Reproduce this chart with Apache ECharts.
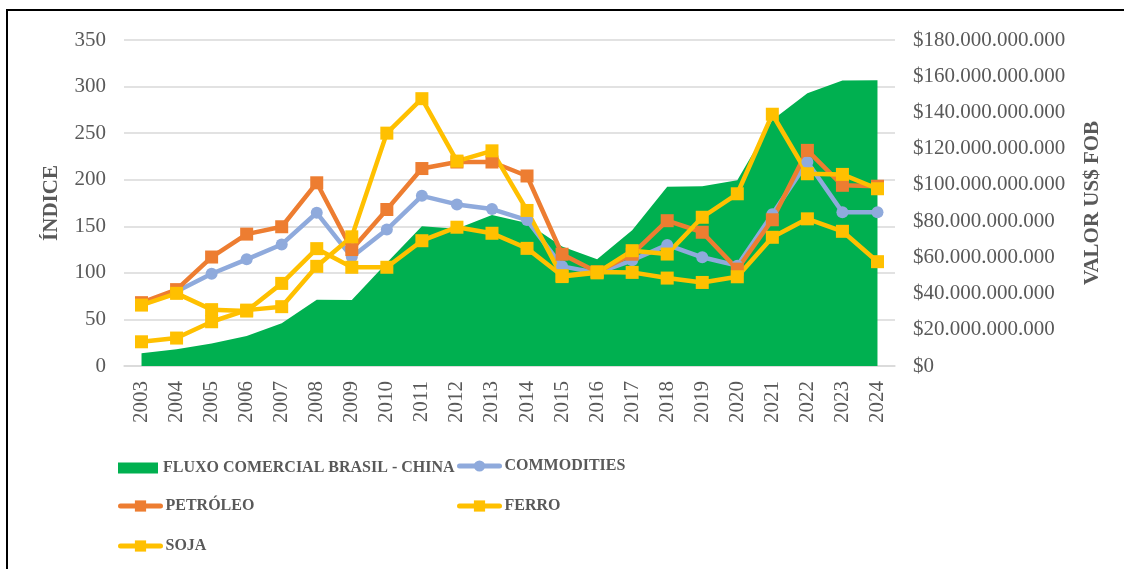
<!DOCTYPE html>
<html>
<head>
<meta charset="utf-8">
<script src="https://cdn.jsdelivr.net/npm/echarts@6/dist/echarts.min.js"></script>
<style>
  html, body { margin: 0; padding: 0; background: #fff; }
  #chart { width: 1124px; height: 569px; }
</style>
</head>
<body>
<div id="chart"></div>
<script>
const years = ['2003', '2004', '2005', '2006', '2007', '2008', '2009', '2010', '2011', '2012', '2013',
  '2014', '2015', '2016', '2017', '2018', '2019', '2020', '2021', '2022', '2023', '2024'];

// fluxo comercial in US$ FOB (right axis)
const fluxo = [7.0e9, 9.3e9, 12.4e9, 16.6e9, 23.6e9, 36.6e9, 36.4e9, 57.0e9, 77.2e9, 75.8e9, 83.4e9,
  79.0e9, 66.0e9, 58.9e9, 75.0e9, 99.0e9, 99.2e9, 102.6e9, 135.8e9, 150.6e9, 157.6e9, 157.8e9];

// indices (left axis)
const commodities = [66, 80, 99, 114.5, 130.5, 164.5, 117, 146.5, 182.7, 173.5, 168.5,
  156.7, 107, 100, 113.5, 130, 116.7, 107.7, 163, 219, 165, 165];
const petroleo = [68, 82, 117, 141.6, 149.5, 196.7, 125, 168, 212, 219, 219,
  204, 120, 101, 120, 156, 143.6, 104, 157, 231.5, 194, 193];
const ferro = [26, 30, 47.5, 60, 63.7, 107, 138.7, 250, 287, 220, 231,
  167, 96, 100, 123.8, 120.2, 159.7, 184.9, 270.3, 206.4, 205.7, 190.3];
const soja = [65.4, 78, 60.5, 59, 88.7, 126, 106, 106, 134.5, 149, 142.5,
  126.3, 97, 101, 100.5, 94.4, 89.7, 95.8, 138.2, 158, 144.6, 112];

const leftTicks = { min: 0, max: 350, interval: 50 };
const rightTicks = { min: 0, max: 180e9, interval: 20e9 };

const FONT = 'Liberation Serif';
const GREY = '#595959';

const chart = echarts.init(document.getElementById('chart'));

function lineSeries(name, data, color, symbol, size) {
  return {
    name: name,
    type: 'line',
    yAxisIndex: 0,
    data: data,
    symbol: symbol,
    symbolSize: size,
    showAllSymbol: true,
    lineStyle: { width: 4.5, color: color, cap: 'round', join: 'round' },
    itemStyle: { color: color, borderWidth: 0 },
    emphasis: { disabled: true }
  };
}

function legendAt(name, left, top, extra) {
  return Object.assign({
    data: [name],
    left: left,
    top: top,
    padding: 0,
    itemWidth: 40,
    itemHeight: 14,
    itemGap: 5,
    selectedMode: false,
    lineStyle: { width: 5 },
    textStyle: { fontFamily: FONT, fontSize: 16, fontWeight: 'bold', color: GREY }
  }, extra || {});
}

chart.setOption({
  animation: false,
  backgroundColor: '#fff',
  graphic: [{
    type: 'rect',
    shape: { x: 7, y: 10, width: 1140, height: 600 },
    style: { fill: null, stroke: '#000', lineWidth: 2 },
    silent: true
  }],
  grid: { left: 124, right: 229, top: 40, bottom: 203 },
  legend: [
    legendAt('FLUXO COMERCIAL BRASIL - CHINA', 118, 460, { itemHeight: 11, data: [{ name: 'FLUXO COMERCIAL BRASIL - CHINA', icon: 'rect' }] }),
    legendAt('COMMODITIES', 457, 458),
    legendAt('PETRÓLEO', 118, 498),
    legendAt('FERRO', 457, 498),
    legendAt('SOJA', 118, 538)
  ],
  xAxis: {
    type: 'category',
    data: years,
    axisLine: { lineStyle: { color: '#D9D9D9', width: 1.5 } },
    axisTick: { show: false },
    axisLabel: { rotate: 90, margin: 15, interval: 0, fontFamily: FONT, fontSize: 21, color: GREY }
  },
  yAxis: [
    {
      type: 'value',
      min: leftTicks.min,
      max: leftTicks.max,
      interval: leftTicks.interval,
      name: 'ÍNDICE',
      nameLocation: 'middle',
      nameRotate: 90,
      nameGap: 62,
      nameTextStyle: { fontFamily: FONT, fontSize: 21, fontWeight: 'bold', color: GREY },
      axisLine: { show: false },
      axisTick: { show: false },
      axisLabel: { margin: 18, fontFamily: FONT, fontSize: 21, color: GREY },
      splitLine: { lineStyle: { color: '#D9D9D9', width: 1.5 } }
    },
    {
      type: 'value',
      position: 'right',
      min: rightTicks.min,
      max: rightTicks.max,
      interval: rightTicks.interval,
      name: 'VALOR US$ FOB',
      nameLocation: 'middle',
      nameRotate: 90,
      nameGap: 187,
      nameTextStyle: { fontFamily: FONT, fontSize: 21, fontWeight: 'bold', color: GREY },
      axisLine: { show: false },
      axisTick: { show: false },
      splitLine: { show: false },
      axisLabel: {
        margin: 18,
        fontFamily: FONT,
        fontSize: 21,
        color: GREY,
        formatter: (v) => '$' + String(Math.round(v)).replace(/\B(?=(\d{3})+(?!\d))/g, '.')
      }
    }
  ],
  series: [
    {
      name: 'FLUXO COMERCIAL BRASIL - CHINA',
      type: 'line',
      yAxisIndex: 1,
      data: fluxo,
      symbol: 'none',
      lineStyle: { width: 0, color: '#00B050' },
      itemStyle: { color: '#00B050' },
      areaStyle: { color: '#00B050', opacity: 1 },
      emphasis: { disabled: true }
    },
    lineSeries('COMMODITIES', commodities, '#8FAADC', 'circle', 12),
    lineSeries('PETRÓLEO', petroleo, '#ED7D31', 'rect', 13),
    lineSeries('FERRO', ferro, '#FFC000', 'rect', 13),
    lineSeries('SOJA', soja, '#FFC000', 'rect', 13)
  ]
});
</script>
</body>
</html>
